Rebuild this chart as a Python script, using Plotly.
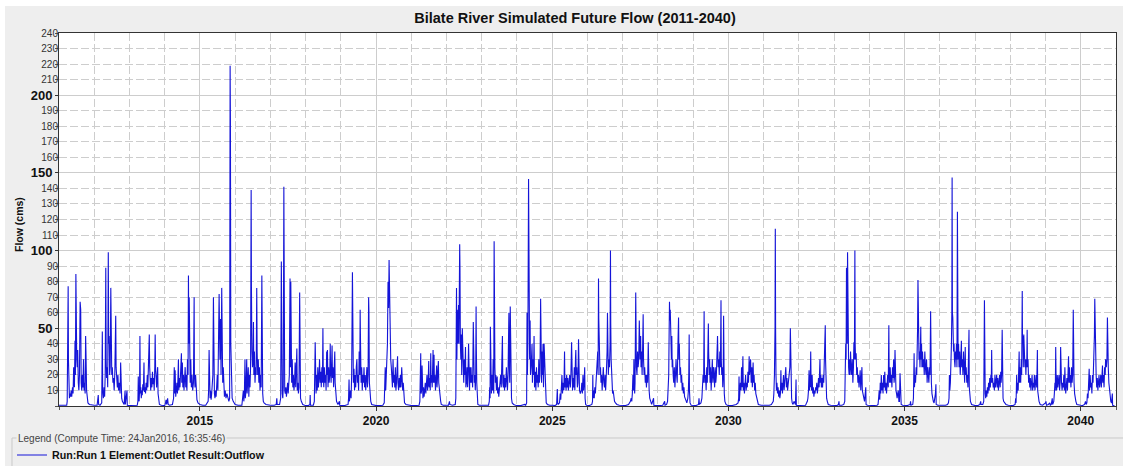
import pandas as pd
import plotly.graph_objects as go

# ---------------- data: (day of year, flow in cms) ----------------
f2011 = [(0,0.5),(40,0.3),(80,0.5),(85,3),(88,55),(92,20),(95,77),(98,30),(102,12),(108,5),(114,8),(120,6),(126,10),(132,6),(140,12),(146,8),(152,25),(160,12),(166,42),(170,20),(175,85),(179,40),(184,30),(189,25),(194,36),(200,15),(206,10),(212,20),(219,67),(222,40),(225,62),(230,15),(236,10),(242,20),(248,12),(254,30),(260,10),(266,15),(271,8),(276,45),(280,33),(286,10),(292,5),(300,2),(315,1),(340,0.5)]
f2012 = [(0,0.5),(30,0.5),(42,7),(46,1),(60,0.5),(78,2),(84,48),(88,10),(95,5),(102,12),(108,6),(114,20),(120,89),(124,30),(128,18),(134,25),(140,12),(146,99),(150,40),(155,45),(160,20),(166,25),(172,76),(176,30),(182,20),(188,25),(194,15),(200,18),(207,10),(214,22),(223,58),(227,25),(233,18),(240,12),(246,20),(252,10),(260,15),(268,8),(274,28),(278,10),(285,5),(292,3),(300,2),(310,1),(320,10),(323,1),(340,10),(343,0.5),(355,0.3)]
f2013 = [(0,0.3),(40,0.3),(80,0.5),(87,3),(91,19),(95,4),(100,3),(104,10),(108,45),(112,8),(117,12),(122,5),(127,10),(132,7),(138,14),(144,10),(150,28),(154,9),(160,12),(166,8),(172,15),(178,10),(184,20),(190,12),(196,30),(201,38),(205,46),(209,25),(214,15),(220,10),(226,18),(232,12),(238,22),(244,14),(250,18),(256,10),(262,25),(266,46),(270,25),(275,15),(281,12),(287,20),(292,25),(296,8),(302,3),(310,1),(330,0.5),(350,0.3)]
f2014 = [(0,0.3),(8,2),(14,4),(20,1),(30,5),(36,1),(50,0.5),(80,1),(92,5),(99,25),(103,8),(108,23),(114,6),(120,10),(126,15),(132,8),(138,20),(142,30),(146,10),(152,18),(158,12),(165,25),(173,34),(177,15),(183,28),(188,12),(194,20),(200,10),(206,15),(212,25),(218,12),(224,20),(230,10),(236,30),(242,20),(246,84),(250,40),(254,70),(258,25),(264,15),(270,30),(276,12),(282,20),(290,10),(298,15),(305,70),(308,20),(314,12),(320,20),(326,8),(334,4),(345,2),(360,1)]
f2015 = [(0,1),(30,0.5),(60,0.5),(85,3),(90,10),(95,36),(99,8),(105,5),(110,10),(116,4),(122,8),(128,12),(134,20),(140,70),(144,22),(150,8),(156,5),(162,10),(168,6),(174,12),(180,20),(186,10),(192,45),(199,72),(203,50),(208,30),(214,56),(219,20),(226,76),(230,30),(236,15),(242,25),(248,10),(254,6),(262,10),(270,5),(280,8),(290,4),(300,3),(308,5),(313,219),(316,185),(320,40),(326,10),(334,5),(345,3),(358,2)]
f2016 = [(0,1),(30,0.5),(70,0.5),(85,10),(90,3),(96,8),(102,30),(106,5),(112,10),(120,30),(124,8),(130,15),(136,25),(142,6),(148,20),(154,12),(160,25),(166,139),(169,75),(174,35),(180,25),(185,30),(190,54),(194,20),(200,35),(206,15),(212,25),(218,20),(224,76),(228,35),(234,20),(240,30),(246,15),(252,25),(258,10),(264,20),(270,12),(277,84),(280,20),(286,8),(292,3),(300,2),(320,1),(345,0.5)]
f2017 = [(0,0.5),(40,0.5),(60,1),(66,5),(70,1),(95,1),(100,3),(106,5),(113,93),(117,40),(122,8),(128,5),(133,12),(139,141),(143,30),(148,10),(154,8),(160,12),(166,6),(172,10),(178,15),(184,8),(190,12),(196,20),(203,82),(207,25),(211,80),(215,25),(220,15),(226,30),(232,12),(238,20),(244,10),(250,15),(256,28),(262,12),(268,20),(274,37),(278,10),(284,15),(290,8),(296,12),(303,73),(306,20),(312,5),(320,3),(335,1),(355,0.5)]
f2018 = [(0,0.3),(30,0.3),(44,1),(47,7),(50,0.5),(80,0.5),(90,3),(99,41),(103,12),(108,8),(114,20),(120,10),(126,25),(132,12),(138,18),(144,30),(150,15),(156,22),(162,12),(168,25),(174,15),(179,50),(183,20),(188,12),(194,25),(200,15),(206,20),(212,10),(218,35),(222,20),(226,36),(232,12),(238,25),(244,15),(250,20),(255,40),(258,25),(264,15),(270,30),(274,39),(278,18),(284,25),(290,12),(296,20),(302,35),(306,15),(312,8),(320,3),(335,1),(350,3),(353,0.5)]
f2019 = [(0,0.3),(40,0.3),(75,1),(80,5),(85,17),(89,3),(94,8),(100,10),(106,5),(112,20),(120,86),(124,30),(130,15),(136,24),(142,10),(148,20),(154,12),(160,25),(166,30),(172,15),(178,20),(184,10),(190,35),(196,20),(200,62),(204,40),(210,15),(216,25),(222,10),(228,20),(234,15),(240,25),(246,12),(252,20),(258,10),(264,18),(270,25),(276,12),(282,20),(288,70),(291,61),(296,15),(302,8),(310,3),(320,1),(340,0.5)]
f2020 = [(0,0.3),(40,0.3),(70,0.5),(85,2),(90,12),(95,25),(100,10),(106,20),(112,30),(118,40),(124,80),(130,63),(135,94),(139,70),(143,77),(147,40),(152,30),(158,25),(164,20),(170,12),(176,30),(182,15),(188,20),(194,12),(200,25),(206,10),(212,15),(217,20),(223,32),(227,15),(234,10),(240,18),(246,12),(252,20),(258,12),(266,25),(270,20),(276,10),(282,15),(288,5),(295,2),(310,1),(340,0.5)]
f2021 = [(0,0.3),(40,0.3),(80,0.5),(88,3),(94,21),(97,34),(101,8),(106,10),(111,26),(115,8),(120,5),(126,12),(132,6),(138,10),(144,15),(150,8),(156,12),(162,20),(168,10),(174,15),(180,29),(184,12),(190,18),(196,10),(201,34),(205,15),(210,20),(216,12),(220,25),(225,36),(229,15),(235,33),(239,15),(244,20),(250,10),(256,15),(262,26),(266,12),(272,20),(280,29),(284,15),(290,10),(296,5),(304,3),(310,1),(330,0.5)]
f2022 = [(0,0.5),(20,0.5),(30,3),(34,1),(60,0.5),(90,1),(96,5),(100,55),(103,76),(107,30),(111,62),(115,40),(120,45),(124,65),(128,40),(132,60),(136,104),(139,88),(143,40),(148,30),(153,46),(157,20),(163,50),(167,35),(172,25),(178,15),(184,30),(190,20),(196,38),(200,12),(206,15),(212,25),(218,12),(222,20),(228,40),(232,18),(238,10),(244,25),(250,15),(254,25),(258,15),(264,20),(270,12),(277,54),(281,25),(287,15),(292,20),(298,10),(302,20),(306,64),(309,35),(313,15),(318,5),(324,1),(340,0.5)]
f2023 = [(0,0.5),(40,0.3),(70,0.5),(78,3),(82,12),(86,5),(89,51),(93,15),(100,8),(106,20),(112,10),(118,30),(124,8),(128,106),(131,40),(136,25),(141,15),(146,20),(152,10),(160,19),(164,8),(170,12),(176,6),(182,10),(190,15),(196,20),(202,12),(208,25),(214,45),(218,15),(224,12),(230,20),(236,10),(242,18),(248,12),(255,25),(260,18),(266,10),(272,20),(276,30),(281,60),(285,25),(290,15),(295,64),(299,30),(303,12),(308,5),(315,2),(330,1),(350,0.5)]
f2024 = [(0,0.3),(40,0.3),(80,1),(90,0.5),(100,2),(104,60),(108,20),(113,40),(120,146),(123,90),(127,50),(131,30),(136,55),(140,20),(146,25),(150,30),(156,40),(160,15),(166,30),(172,20),(177,45),(182,12),(190,22),(196,10),(202,25),(208,15),(214,20),(220,12),(226,30),(232,15),(238,20),(245,69),(249,25),(255,15),(260,35),(265,20),(270,40),(275,12),(281,40),(285,33),(290,15),(296,8),(303,2),(315,1),(340,0.5)]
f2025 = [(0,0.5),(30,0.3),(45,1),(52,11),(56,2),(62,1),(75,2),(82,8),(88,4),(95,12),(100,20),(106,8),(112,15),(120,10),(127,35),(131,12),(137,18),(143,10),(149,20),(155,12),(161,18),(167,10),(173,15),(180,20),(187,12),(193,20),(200,41),(204,15),(210,10),(216,18),(222,12),(228,25),(234,10),(240,30),(244,36),(248,20),(254,25),(260,12),(266,15),(272,43),(276,15),(282,10),(290,8),(300,10),(306,15),(312,8),(318,20),(324,10),(330,15),(336,25),(340,5),(346,1),(355,0.5)]
f2026 = [(0,0.5),(20,0.3),(45,1),(52,3),(55,20),(58,5),(64,10),(70,5),(76,12),(82,8),(88,15),(94,20),(100,25),(106,35),(110,20),(114,82),(117,56),(121,45),(125,30),(130,20),(135,25),(140,15),(146,20),(152,10),(158,18),(164,25),(170,15),(176,12),(182,20),(188,10),(194,18),(200,25),(203,35),(207,60),(211,40),(216,20),(222,30),(228,25),(234,40),(238,100),(241,53),(245,30),(250,20),(255,12),(260,8),(266,10),(272,5),(280,3),(290,2),(305,1),(330,0.5)]
f2027 = [(0,0.3),(30,0.3),(60,1),(72,2),(80,3),(88,5),(94,3),(100,8),(106,20),(112,10),(116,30),(120,15),(124,8),(128,15),(135,73),(138,40),(142,25),(148,20),(154,35),(160,25),(166,30),(172,55),(176,48),(180,30),(186,45),(190,25),(196,35),(201,20),(206,35),(212,59),(216,30),(222,20),(228,25),(234,15),(240,20),(246,12),(252,20),(258,15),(265,41),(268,18),(274,10),(280,5),(290,3),(300,1),(320,5),(323,0.5),(345,0.3)]
f2028 = [(0,0.5),(20,0.3),(50,0.5),(70,3),(74,0.5),(90,1),(100,3),(106,10),(112,20),(116,45),(120,67),(124,55),(128,62),(132,40),(136,50),(140,30),(144,45),(148,25),(153,30),(158,20),(164,15),(170,25),(176,12),(182,20),(188,30),(194,20),(200,15),(206,35),(210,45),(214,57),(218,30),(222,40),(228,20),(234,25),(240,15),(246,20),(252,10),(258,15),(264,8),(270,12),(276,6),(284,4),(292,3),(300,2),(310,5),(316,10),(320,20),(324,46),(327,10),(333,2),(345,0.5)]
f2029 = [(0,0.5),(30,0.3),(55,1),(60,5),(64,1),(80,2),(90,5),(96,12),(102,20),(108,15),(113,61),(116,25),(122,15),(128,20),(134,10),(140,25),(146,15),(152,30),(157,53),(160,35),(165,20),(170,30),(175,15),(180,25),(186,10),(192,20),(198,30),(204,15),(210,25),(216,20),(222,12),(228,25),(234,15),(240,20),(246,35),(252,45),(258,25),(264,30),(270,20),(276,35),(282,25),(288,68),(291,30),(296,20),(302,25),(306,12),(311,20),(315,58),(318,20),(322,8),(328,3),(340,1),(355,0.5)]
f2030 = [(0,0.3),(40,0.3),(80,1),(100,2),(106,5),(110,19),(113,3),(118,8),(124,15),(130,10),(136,25),(143,12),(150,32),(154,10),(160,15),(166,8),(172,12),(178,20),(184,10),(190,15),(196,12),(202,22),(208,15),(215,32),(219,20),(224,25),(230,30),(236,15),(242,25),(248,12),(256,28),(260,15),(266,20),(272,10),(278,15),(284,8),(292,5),(300,2),(310,1),(340,0.5)]
f2031 = [(0,0.5),(30,0.3),(60,0.5),(80,1),(90,2),(100,3),(106,8),(112,20),(118,50),(121,114),(124,50),(128,20),(133,10),(138,15),(144,8),(150,12),(156,6),(162,10),(168,5),(174,8),(179,23),(183,10),(189,15),(195,8),(201,12),(206,20),(212,10),(218,15),(224,20),(230,25),(236,12),(242,18),(248,10),(254,15),(260,20),(267,20),(272,25),(277,50),(280,25),(285,10),(290,5),(296,2),(305,1),(315,3),(320,2),(330,1),(336,17),(339,0.5),(355,0.3)]
f2032 = [(0,0.3),(40,0.3),(70,0.5),(80,2),(88,3),(94,5),(100,10),(106,23),(110,10),(114,20),(118,12),(123,35),(127,15),(132,10),(138,20),(144,8),(150,12),(156,6),(162,10),(168,8),(174,12),(180,10),(186,15),(192,8),(198,12),(204,18),(210,12),(219,30),(223,15),(228,20),(234,12),(240,18),(246,12),(252,20),(258,15),(264,25),(268,30),(274,52),(277,30),(282,15),(288,5),(295,3),(305,1),(330,0.5)]
f2033 = [(0,0.3),(30,0.3),(45,1),(50,3),(53,0.5),(80,0.5),(100,1),(110,3),(115,22),(120,40),(124,30),(128,89),(131,50),(135,40),(139,99),(142,45),(146,40),(150,25),(155,20),(160,30),(165,20),(170,35),(176,25),(182,20),(188,30),(194,15),(200,25),(205,41),(210,30),(215,100),(218,40),(222,30),(228,34),(234,20),(240,25),(246,15),(252,20),(258,12),(264,18),(270,23),(276,10),(282,15),(288,25),(292,10),(298,8),(305,5),(315,3),(328,12),(331,1),(345,0.5)]
f2034 = [(0,0.3),(40,0.3),(80,0.5),(90,1),(96,5),(102,10),(108,4),(113,15),(118,8),(124,20),(130,10),(136,15),(142,8),(148,20),(154,12),(160,22),(166,10),(172,15),(178,8),(184,12),(190,20),(196,12),(202,52),(205,25),(210,15),(216,25),(222,15),(228,20),(234,12),(240,25),(246,18),(252,30),(256,15),(262,20),(266,36),(270,15),(276,10),(282,8),(288,5),(294,8),(300,10),(306,3),(312,3),(318,21),(322,3),(330,1),(345,0.5)]
f2035 = [(0,0.3),(30,0.3),(58,1),(62,3),(66,0.5),(85,1),(92,5),(99,34),(103,12),(108,20),(114,15),(120,25),(126,20),(131,30),(135,50),(139,81),(142,50),(146,40),(150,30),(155,35),(160,25),(165,40),(168,51),(171,30),(176,40),(180,25),(186,35),(192,25),(198,30),(204,20),(210,35),(216,25),(222,20),(228,30),(234,15),(240,25),(246,20),(252,15),(258,25),(264,20),(270,61),(273,25),(278,15),(284,8),(290,5),(298,3),(306,2),(314,5),(320,8),(325,14),(328,1),(345,0.5)]
f2036 = [(0,0.5),(30,0.3),(60,0.5),(80,1),(90,2),(96,5),(100,20),(104,10),(110,15),(116,25),(121,40),(125,60),(128,147),(131,60),(135,57),(139,45),(143,35),(148,40),(152,30),(158,25),(163,35),(168,30),(173,40),(178,25),(183,125),(186,40),(190,30),(195,40),(200,25),(206,35),(212,20),(218,30),(224,42),(228,25),(234,30),(240,20),(246,35),(252,25),(258,15),(264,38),(268,20),(274,25),(280,15),(286,20),(292,12),(298,25),(303,49),(306,12),(312,5),(318,3),(330,1),(350,0.5)]
f2037 = [(0,0.3),(30,0.3),(50,1),(58,3),(62,1),(80,1),(90,3),(97,68),(100,25),(105,8),(110,5),(116,10),(122,6),(128,12),(134,8),(140,15),(146,10),(152,18),(158,12),(164,20),(168,15),(172,36),(176,15),(182,18),(188,12),(194,15),(200,10),(206,20),(212,12),(218,15),(224,20),(230,12),(236,18),(242,10),(248,15),(254,20),(260,12),(266,22),(270,15),(275,20),(281,49),(284,10),(290,5),(296,3),(305,2),(320,1),(345,0.5)]
f2038 = [(0,0.3),(30,0.3),(50,1),(56,5),(60,2),(66,20),(70,8),(76,15),(82,10),(88,20),(92,35),(96,15),(102,25),(108,15),(114,30),(118,20),(124,74),(127,40),(131,45),(135,25),(140,46),(144,30),(148,35),(152,25),(157,30),(162,20),(166,30),(171,25),(175,49),(178,25),(184,30),(190,15),(196,20),(202,12),(208,18),(214,10),(220,15),(226,20),(232,10),(238,15),(244,12),(250,20),(256,10),(262,15),(268,20),(274,12),(281,36),(284,10),(290,5),(298,3),(310,1),(335,0.5)]
f2039 = [(0,2),(5,3),(10,0.5),(30,1),(45,2),(50,0.5),(60,1),(70,5),(74,1),(80,2),(86,3),(92,8),(98,15),(102,10),(106,38),(110,15),(116,10),(122,20),(128,12),(134,15),(140,20),(146,10),(152,15),(157,38),(161,20),(166,15),(172,10),(178,15),(184,12),(190,20),(196,10),(201,25),(205,15),(210,8),(216,12),(222,18),(228,10),(234,20),(239,32),(243,15),(248,25),(252,15),(258,20),(264,12),(270,25),(276,15),(282,20),(288,62),(291,20),(296,15),(302,8),(308,5),(315,3),(325,1),(345,0.5)]
f2040 = [(0,0.5),(20,0.3),(40,1),(50,3),(56,1),(64,2),(70,8),(76,5),(82,15),(88,24),(92,10),(98,20),(104,12),(110,15),(116,8),(122,20),(128,15),(133,25),(138,30),(142,45),(146,69),(150,40),(154,25),(160,20),(166,12),(172,18),(178,10),(184,15),(190,20),(196,12),(202,15),(208,20),(214,12),(220,18),(226,26),(230,15),(236,20),(242,12),(248,25),(254,20),(258,30),(266,25),(272,30),(277,57),(280,30),(286,25),(292,15),(298,10),(304,5),(312,3),(320,2),(328,8),(331,0.5),(350,0.3)]

years = list(range(2011, 2041))
yearly = [f2011, f2012, f2013, f2014, f2015, f2016, f2017, f2018, f2019, f2020,
          f2021, f2022, f2023, f2024, f2025, f2026, f2027, f2028, f2029, f2030,
          f2031, f2032, f2033, f2034, f2035, f2036, f2037, f2038, f2039, f2040]

y_major = [50, 100, 150, 200]
y_minor_labels = [v for v in range(10, 241, 10) if v not in y_major]

series_name = "Run:Run 1 Element:Outlet Result:Outflow"
title_text = "Bilate River Simulated Future Flow (2011-2040)"
legend_head = "Legend (Compute Time: 24Jan2016, 16:35:46)"

# ---------------- build series ----------------
dates, flows = [], []
for yr, pts in zip(years, yearly):
    base = pd.Timestamp(f"{yr}-01-01")
    for d, v in pts:
        dates.append(base + pd.Timedelta(days=d))
        flows.append(v)

FONT = "Liberation Sans, Arial, sans-serif"
W, H = 1131, 466
L, R, T, B = 59, 15, 33, 60
PW, PH = W - L - R, H - T - B

def px_x(px):
    return (px - L) / PW

def px_y(py):
    return (H - B - py) / PH

LINE_COLOR = "#1414d8"

fig = go.Figure()
fig.add_trace(go.Scatter(x=dates, y=flows, mode="lines", name=series_name,
                         line=dict(color=LINE_COLOR, width=1.1), yaxis="y"))
fig.add_trace(go.Scatter(x=[dates[0]], y=[None], mode="lines", showlegend=False,
                         hoverinfo="skip", yaxis="y2"))

grid_c = "#cdcdcd"
fig.update_layout(
    width=W, height=H, autosize=False,
    margin=dict(l=L, r=R, t=T, b=B, pad=0, autoexpand=False),
    paper_bgcolor="#eeeeee", plot_bgcolor="white",
    font=dict(family=FONT, color="#222"),
    title=dict(text=f"<b>{title_text}</b>", x=575 / W, xref="container", xanchor="center",
               y=1 - 18 / H, yref="container", yanchor="middle",
               font=dict(size=14.5, family=FONT, color="#111")),
    showlegend=True,
    legend=dict(x=12 / W, xref="container", xanchor="left",
                y=1 - 455 / H, yref="container", yanchor="middle",
                bgcolor="rgba(0,0,0,0)", borderwidth=0, itemwidth=30,
                font=dict(size=10.7, family=FONT, color="#111", weight="bold")),
    xaxis=dict(type="date", range=["2011-01-01", "2041-01-01"],
               tick0="2015-01-01", dtick="M60", tickformat="%Y",
               ticks="outside", ticklen=4, tickcolor="#333",
               tickfont=dict(size=12, family=FONT, color="#111", weight="bold"),
               showgrid=True, gridcolor=grid_c, gridwidth=1,
               minor=dict(tick0="2011-01-01", dtick="M12", ticks="outside", ticklen=3,
                          tickcolor="#555", showgrid=True, gridcolor=grid_c,
                          griddash="8px,3px", gridwidth=1),
               showline=True, mirror=True, linecolor="#333", linewidth=1,
               zeroline=False, fixedrange=True, automargin=False),
    yaxis=dict(range=[0, 240], tickvals=y_major, ticktext=[str(v) for v in y_major],
               ticks="outside", ticklen=3, tickcolor="#333",
               tickfont=dict(size=13, family=FONT, color="#111", weight="bold"),
               showgrid=True, gridcolor=grid_c, gridwidth=1,
               minor=dict(tick0=0, dtick=10, ticks="outside", ticklen=3, tickcolor="#555",
                          showgrid=True, gridcolor=grid_c, griddash="8px,3px", gridwidth=1),
               showline=True, mirror=True, linecolor="#333", linewidth=1,
               zeroline=False, fixedrange=True, automargin=False),
    yaxis2=dict(range=[0, 240], overlaying="y", side="left", anchor="x",
                tickvals=y_minor_labels, ticktext=[str(v) for v in y_minor_labels],
                ticks="", tickfont=dict(size=10, family=FONT, color="#333"),
                showgrid=False, zeroline=False, showline=False, fixedrange=True,
                automargin=False),
    annotations=[
        dict(text="<b>Flow (cms)</b>", xref="paper", yref="paper", x=px_x(19), y=px_y(225),
             textangle=-90, showarrow=False, xanchor="center", yanchor="middle",
             font=dict(size=10.5, family=FONT, color="#111")),
        dict(text=legend_head, xref="paper", yref="paper", x=px_x(16), y=px_y(438),
             showarrow=False, xanchor="left", yanchor="middle", bgcolor="#eeeeee",
             font=dict(size=10, family=FONT, color="#444")),
    ],
    shapes=[
        # titled border of the legend panel
        dict(type="line", xref="paper", yref="paper", x0=px_x(12), x1=px_x(1126),
             y0=px_y(438), y1=px_y(438), line=dict(color="#c9c9c9", width=1)),
        dict(type="line", xref="paper", yref="paper", x0=px_x(12), x1=px_x(12),
             y0=px_y(438), y1=px_y(470), line=dict(color="#c9c9c9", width=1)),
        # thin white frame of the window
        dict(type="rect", xref="paper", yref="paper", x0=px_x(0), x1=px_x(W),
             y0=px_y(6), y1=px_y(0), fillcolor="white", line=dict(width=0)),
        dict(type="rect", xref="paper", yref="paper", x0=px_x(0), x1=px_x(5),
             y0=px_y(H), y1=px_y(0), fillcolor="white", line=dict(width=0)),
        dict(type="rect", xref="paper", yref="paper", x0=px_x(1123), x1=px_x(W),
             y0=px_y(H), y1=px_y(0), fillcolor="white", line=dict(width=0)),
    ],
)

fig.write_html("out.html")
